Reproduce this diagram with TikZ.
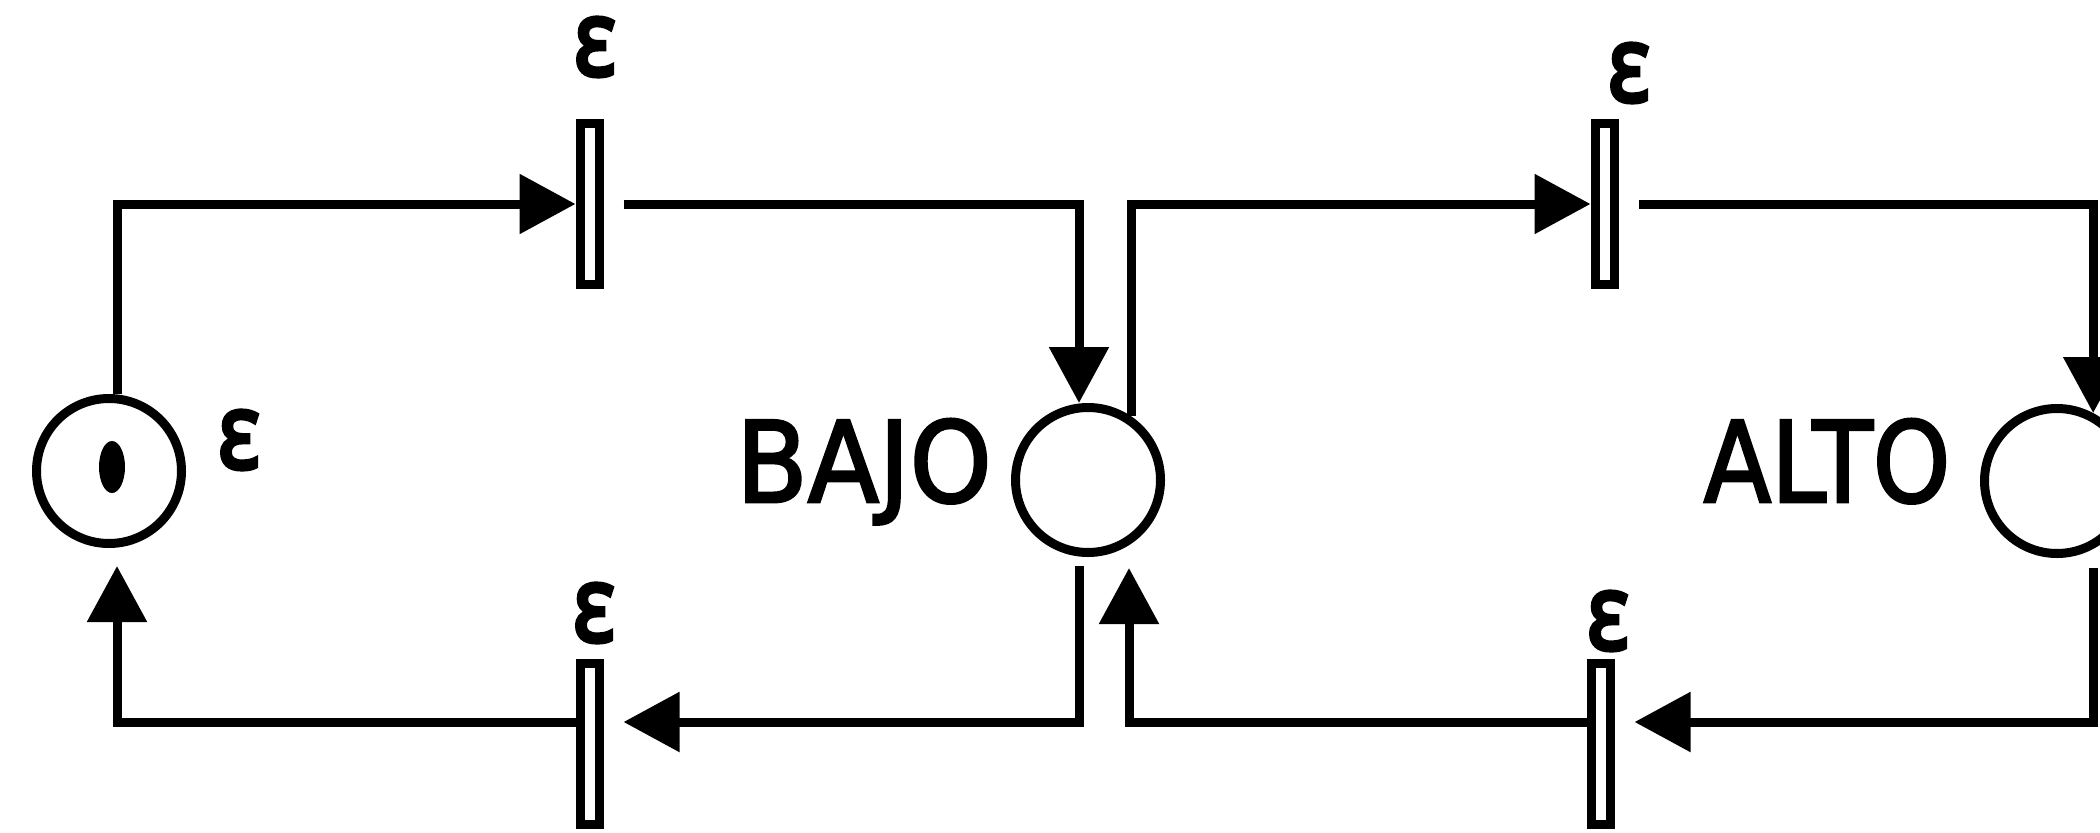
\documentclass[tikz,border=0pt]{standalone}
\usepackage{fontspec}
\newfontfamily\lblf[FakeBold=2.5]{DejaVu Sans}
\newfontfamily\epsf[FakeBold=4]{Noto Sans}
\usetikzlibrary{arrows.meta,calc,shapes.geometric}
\begin{document}
\begin{tikzpicture}[x=1pt,y=-1pt,
  wire/.style={line width=9pt},
  arr/.style={wire,-{Triangle[length=56pt,width=58pt]}},
  place/.style={circle,draw,line width=9pt,minimum size=145pt,inner sep=0pt},
  trans/.style={rectangle,draw,line width=9pt,minimum width=19pt,minimum height=161pt,inner sep=0pt},
  eps/.style={font=\epsf\fontsize{106}{106}\selectfont,inner sep=0pt},
  lbl/.style={font=\lblf\fontsize{112}{112}\selectfont,inner sep=0pt,anchor=base}]
\useasboundingbox (0,0) rectangle (2100,832);
\fill[white] (0,0) rectangle (2100,832);
\clip (0,0) rectangle (2100,832);
% places
\node[place] (p0) at (109,471) {};
\node[fill,ellipse,minimum width=26pt,minimum height=52pt,inner sep=0pt] (tok) at (112,467) {};
\node[place] (pB) at (1088,480) {};
\node[place] (pA) at (2057,481) {};
% transitions
\node[trans] (t1) at (589.5,204) {};
\node[trans] (t2) at (1604.5,204) {};
\node[trans] (t3) at (589.5,744) {};
\node[trans] (t4) at (1600.5,744) {};
% labels
\node[eps] (e0) at (239,440) {\scalebox{0.85}[1]{ε}};
\node[eps] (e1) at (595,47) {\scalebox{0.85}[1]{ε}};
\node[eps] (e2) at (1629,73) {\scalebox{0.85}[1]{ε}};
\node[eps] (e3) at (594,613) {\scalebox{0.85}[1]{ε}};
\node[eps] (e4) at (1608,621) {\scalebox{0.85}[1]{ε}};
\node[lbl] (lB) at (864,502) {\scalebox{0.93}[1]{BAJO}};
\node[lbl] (lA) at (1827,502) {\scalebox{0.88}[1]{ALTO}};
% connectors
\coordinate (ybot) at (0,722);
\draw[arr] ([xshift=8pt]p0.north) |- (t1.west);
\draw[arr] ([xshift=20pt]t1.east) -| ([xshift=-9pt]pB.north);
\draw[arr] (pB.56) |- (t2.west);
\draw[arr] ([xshift=20pt]t2.east) -| (pA.62);
\draw[arr] ([yshift=-19pt]pA.-62) |- ($(t4.east |- ybot)+(20,0)$);
\draw[arr] (t4.west |- ybot) -| ([xshift=41pt,yshift=-11pt]pB.south);
\draw[arr] ([xshift=-9pt,yshift=-9pt]pB.south) |- ($(t3.east |- ybot)+(20,0)$);
\draw[arr] (t3.west |- ybot) -| ([xshift=8pt,yshift=-18pt]p0.south);
\end{tikzpicture}
\end{document}
